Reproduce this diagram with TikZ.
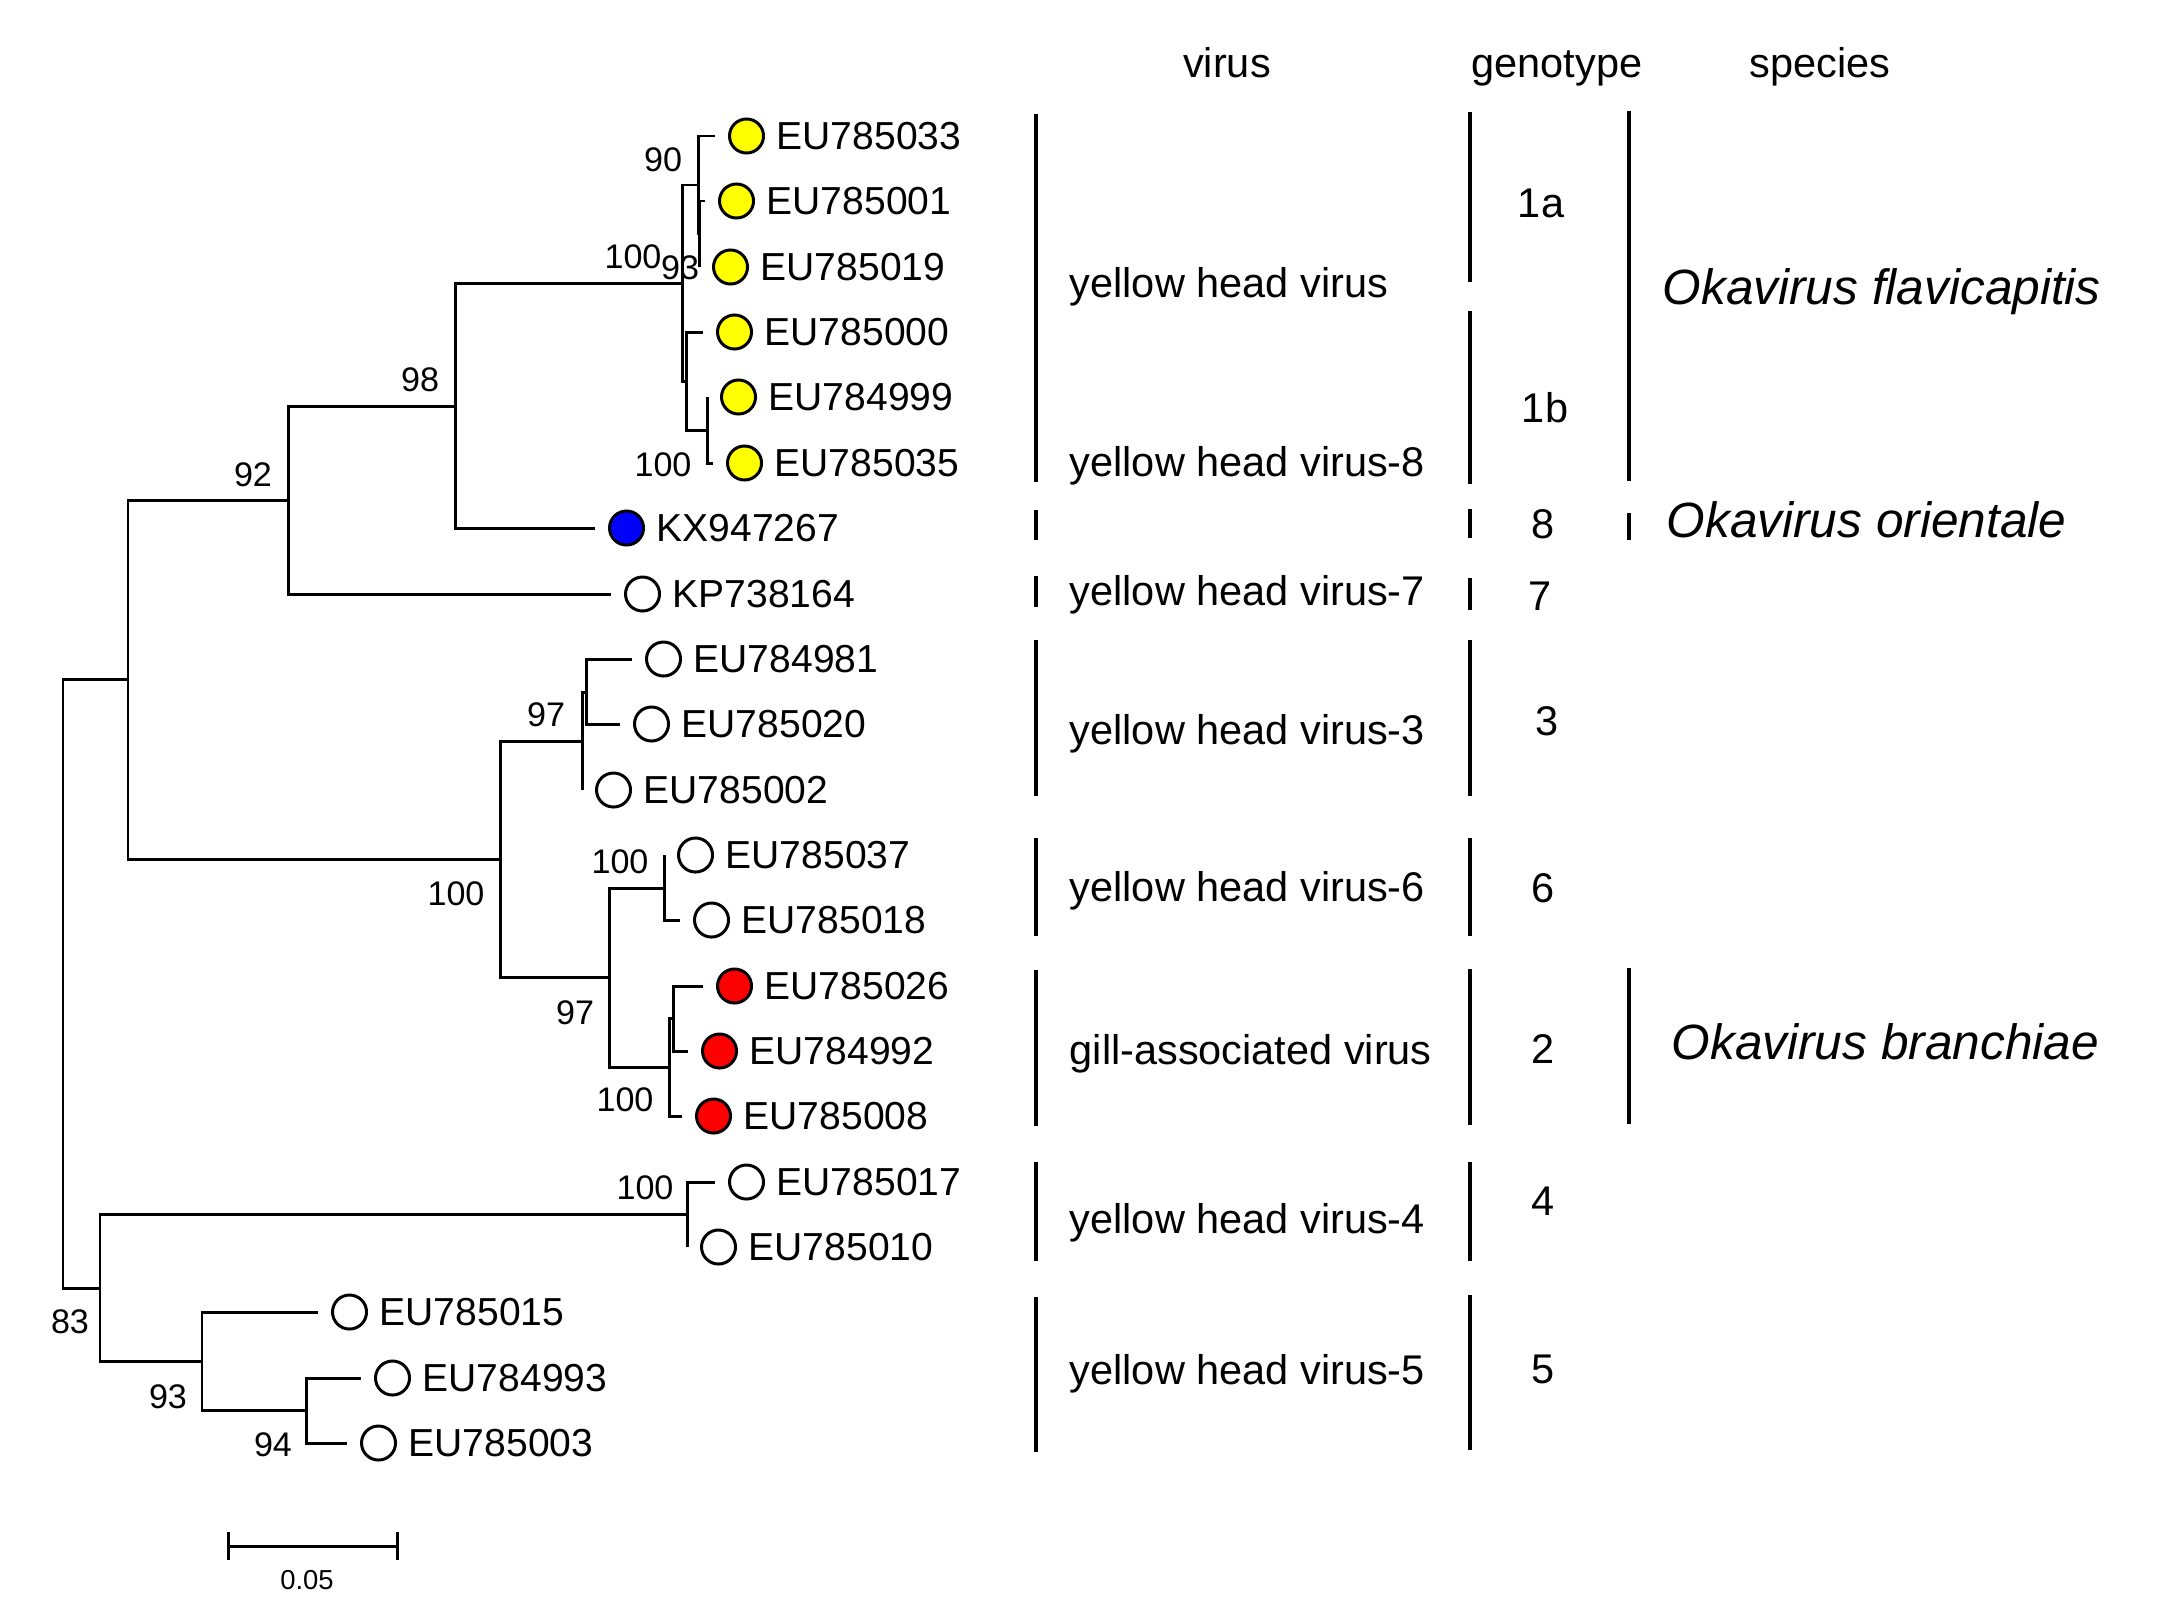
\documentclass[tikz,border=0pt]{standalone}
\usepackage{fontspec}
\setmainfont{Liberation Sans}
\usepackage{tikz}
\usetikzlibrary{arrows.meta,positioning}
\definecolor{yhvyellow}{HTML}{FFFF00}
\definecolor{yhvblue}{HTML}{0000FF}
\definecolor{gavred}{HTML}{FF0000}

\begin{document}
\begin{tikzpicture}[x=0.01cm, y=-0.01cm,
  branch/.style={line width=0.85pt},
  leaf/.style={circle, draw, line width=0.85pt, minimum size=0.34cm, inner sep=0pt, fill=white},
  yel/.style={leaf, fill=yhvyellow}, blu/.style={leaf, fill=yhvblue}, red/.style={leaf, fill=gavred},
  acc/.style={inner sep=0pt, font=\fontsize{11.1}{13.3}\selectfont},
  boot/.style={inner sep=0pt, font=\fontsize{9.7}{11.6}\selectfont},
  col/.style={inner sep=0pt, anchor=base west, font=\fontsize{11.8}{14.2}\selectfont},
  geno/.style={inner sep=0pt, anchor=base, font=\fontsize{11.8}{14.2}\selectfont},
  spec/.style={inner sep=0pt, anchor=base west, font=\fontsize{14.1}{17}\selectfont\itshape},
  bar/.style={line width=1pt}]
\useasboundingbox (0,0) rectangle (2180,1615);

% internal nodes
\coordinate (root) at (63,983);
\coordinate (ntop) at (128,679);
\coordinate (n92) at (288,500);
\coordinate (n98) at (455,406);
\coordinate (nyhv) at (682,283);
\coordinate (n1a) at (698,185);
\coordinate (n1ai) at (699,234);
\coordinate (n1b) at (686,381);
\coordinate (n1bi) at (707,430);
\coordinate (nmid) at (500,859);
\coordinate (n3) at (582,741);
\coordinate (n3i) at (586,692);
\coordinate (n26) at (609,977);
\coordinate (n6) at (664,888);
\coordinate (n2) at (669,1067);
\coordinate (n2i) at (673,1018);
\coordinate (n83) at (100,1288);
\coordinate (n4) at (687,1214);
\coordinate (n5) at (202,1361);
\coordinate (n5i) at (306,1410);

% tips
\coordinate (t1) at (715,136);  \node[yel, right=0.13cm of t1] (c1) {};  \node[acc, right=0.11cm of c1] (l1) {EU785033};
\coordinate (t2) at (705,201);  \node[yel, right=0.13cm of t2] (c2) {};  \node[acc, right=0.11cm of c2] (l2) {EU785001};
\coordinate (t3) at (699,267);  \node[yel, right=0.13cm of t3] (c3) {};  \node[acc, right=0.11cm of c3] (l3) {EU785019};
\coordinate (t4) at (703,332);  \node[yel, right=0.13cm of t4] (c4) {};  \node[acc, right=0.11cm of c4] (l4) {EU785000};
\coordinate (t5) at (707,397);  \node[yel, right=0.13cm of t5] (c5) {};  \node[acc, right=0.11cm of c5] (l5) {EU784999};
\coordinate (t6) at (713,463);  \node[yel, right=0.13cm of t6] (c6) {};  \node[acc, right=0.11cm of c6] (l6) {EU785035};
\coordinate (t7) at (595,528);  \node[blu, right=0.13cm of t7] (c7) {};  \node[acc, right=0.11cm of c7] (l7) {KX947267};
\coordinate (t8) at (611,594);  \node[leaf, right=0.13cm of t8] (c8) {}; \node[acc, right=0.11cm of c8] (l8) {KP738164};
\coordinate (t9) at (632,659);  \node[leaf, right=0.13cm of t9] (c9) {}; \node[acc, right=0.11cm of c9] (l9) {EU784981};
\coordinate (t10) at (620,724); \node[leaf, right=0.13cm of t10] (c10) {}; \node[acc, right=0.11cm of c10] (l10) {EU785020};
\coordinate (t11) at (582,790); \node[leaf, right=0.13cm of t11] (c11) {}; \node[acc, right=0.11cm of c11] (l11) {EU785002};
\coordinate (t12) at (664,855); \node[leaf, right=0.13cm of t12] (c12) {}; \node[acc, right=0.11cm of c12] (l12) {EU785037};
\coordinate (t13) at (680,920); \node[leaf, right=0.13cm of t13] (c13) {}; \node[acc, right=0.11cm of c13] (l13) {EU785018};
\coordinate (t14) at (703,986); \node[red, right=0.13cm of t14] (c14) {}; \node[acc, right=0.11cm of c14] (l14) {EU785026};
\coordinate (t15) at (688,1051); \node[red, right=0.13cm of t15] (c15) {}; \node[acc, right=0.11cm of c15] (l15) {EU784992};
\coordinate (t16) at (682,1116); \node[red, right=0.13cm of t16] (c16) {}; \node[acc, right=0.11cm of c16] (l16) {EU785008};
\coordinate (t17) at (715,1182); \node[leaf, right=0.13cm of t17] (c17) {}; \node[acc, right=0.11cm of c17] (l17) {EU785017};
\coordinate (t18) at (687,1247); \node[leaf, right=0.13cm of t18] (c18) {}; \node[acc, right=0.11cm of c18] (l18) {EU785010};
\coordinate (t19) at (318,1312); \node[leaf, right=0.13cm of t19] (c19) {}; \node[acc, right=0.11cm of c19] (l19) {EU785015};
\coordinate (t20) at (361,1378); \node[leaf, right=0.13cm of t20] (c20) {}; \node[acc, right=0.11cm of c20] (l20) {EU784993};
\coordinate (t21) at (347,1443); \node[leaf, right=0.13cm of t21] (c21) {}; \node[acc, right=0.11cm of c21] (l21) {EU785003};

% branches
\draw[branch] (root) |- (ntop) (root) |- (n83);
\draw[branch] (ntop) |- (n92) (ntop) |- (nmid);
\draw[branch] (n92) |- (n98) (n92) |- (t8);
\draw[branch] (n98) |- (nyhv) (n98) |- (t7);
\draw[branch] (nyhv) |- (n1a) (nyhv) |- (n1b);
\draw[branch] (n1a) |- (t1) (n1a) |- (n1ai);
\draw[branch] (n1ai) |- (t2) (n1ai) |- (t3);
\draw[branch] (n1b) |- (t4) (n1b) |- (n1bi);
\draw[branch] (n1bi) |- (t5) (n1bi) |- (t6);
\draw[branch] (nmid) |- (n3) (nmid) |- (n26);
\draw[branch] (n3) |- (n3i) (n3) |- (t11);
\draw[branch] (n3i) |- (t9) (n3i) |- (t10);
\draw[branch] (n26) |- (n6) (n26) |- (n2);
\draw[branch] (n6) |- (t12) (n6) |- (t13);
\draw[branch] (n2) |- (n2i) (n2) |- (t16);
\draw[branch] (n2i) |- (t14) (n2i) |- (t15);
\draw[branch] (n83) |- (n4) (n83) |- (n5);
\draw[branch] (n4) |- (t17) (n4) |- (t18);
\draw[branch] (n5) |- (t19) (n5) |- (n5i);
\draw[branch] (n5i) |- (t20) (n5i) |- (t21);

% bootstrap values
\node[boot] (b92) at (253,475) {92};
\node[boot] (b98) at (420,380) {98};
\node[boot] (byhv) at (633,257) {100};
\node[boot] (b1a) at (663,160) {90};
\node[boot] (b1ai) at (680,268) {93};
\node[boot] (b1bi) at (663,465) {100};
\node[boot] (bmid) at (456,894) {100};
\node[boot] (b3) at (546,715) {97};
\node[boot] (b6) at (620,862) {100};
\node[boot] (b26) at (575,1013) {97};
\node[boot] (b2) at (625,1100) {100};
\node[boot] (b4) at (645,1188) {100};
\node[boot] (b83) at (70,1322) {83};
\node[boot] (b5) at (168,1397) {93};
\node[boot] (b5i) at (273,1445) {94};

% scale bar
\coordinate (sbl) at (227,1546); \coordinate (sbr) at (399,1546);
\draw[branch, {Bar[width=0.28cm]}-{Bar[width=0.28cm]}] (sbl) -- (sbr);
\node[inner sep=0pt, font=\fontsize{7.8}{9.4}\selectfont] (sblab) at (307,1580) {0.05};

% column headings
\node[geno] (hvir) at (1227,77) {virus};
\node[geno] (hgen) at (1557,77) {genotype};
\node[geno] (hspe) at (1820,77) {species};

% virus column
\draw[bar] (1036,114) -- (1036,482); \draw[bar] (1036,510) -- (1036,540);
\draw[bar] (1036,576) -- (1036,607); \draw[bar] (1036,640) -- (1036,796);
\draw[bar] (1036,838) -- (1036,936); \draw[bar] (1036,970) -- (1036,1126);
\draw[bar] (1036,1162) -- (1036,1261); \draw[bar] (1036,1297) -- (1036,1452);
\node[col] (v1) at (1069,297) {yellow head virus};
\node[col] (v8) at (1069,476) {yellow head virus-8};
\node[col] (v7) at (1069,605) {yellow head virus-7};
\node[col] (v3) at (1069,744) {yellow head virus-3};
\node[col] (v6) at (1069,901) {yellow head virus-6};
\node[col] (v2) at (1069,1064) {gill-associated virus};
\node[col] (v4) at (1069,1233) {yellow head virus-4};
\node[col] (v5) at (1069,1384) {yellow head virus-5};

% genotype column
\draw[bar] (1470,112) -- (1470,282); \draw[bar] (1470,311) -- (1470,484);
\draw[bar] (1470,509) -- (1470,538); \draw[bar] (1470,578) -- (1470,610);
\draw[bar] (1470,640) -- (1470,796); \draw[bar] (1470,838) -- (1470,936);
\draw[bar] (1470,969) -- (1470,1125); \draw[bar] (1470,1162) -- (1470,1261);
\draw[bar] (1470,1295) -- (1470,1450);
\node[geno] (g1a) at (1541,217) {1a};
\node[geno] (g1b) at (1545,422) {1b};
\node[geno] (g8) at (1543,538) {8};
\node[geno] (g7) at (1540,610) {7};
\node[geno] (g3) at (1547,735) {3};
\node[geno] (g6) at (1543,902) {6};
\node[geno] (g2) at (1543,1063) {2};
\node[geno] (g4) at (1543,1215) {4};
\node[geno] (g5) at (1543,1383) {5};

% species column
\draw[bar] (1629,111) -- (1629,481); \draw[bar] (1629,513) -- (1629,540);
\draw[bar] (1629,968) -- (1629,1124);
\node[spec] (sfla) at (1662,304) {Okavirus flavicapitis};
\node[spec] (sori) at (1666,537) {Okavirus orientale};
\node[spec] (sbra) at (1671,1059) {Okavirus branchiae};
\end{tikzpicture}
\end{document}
